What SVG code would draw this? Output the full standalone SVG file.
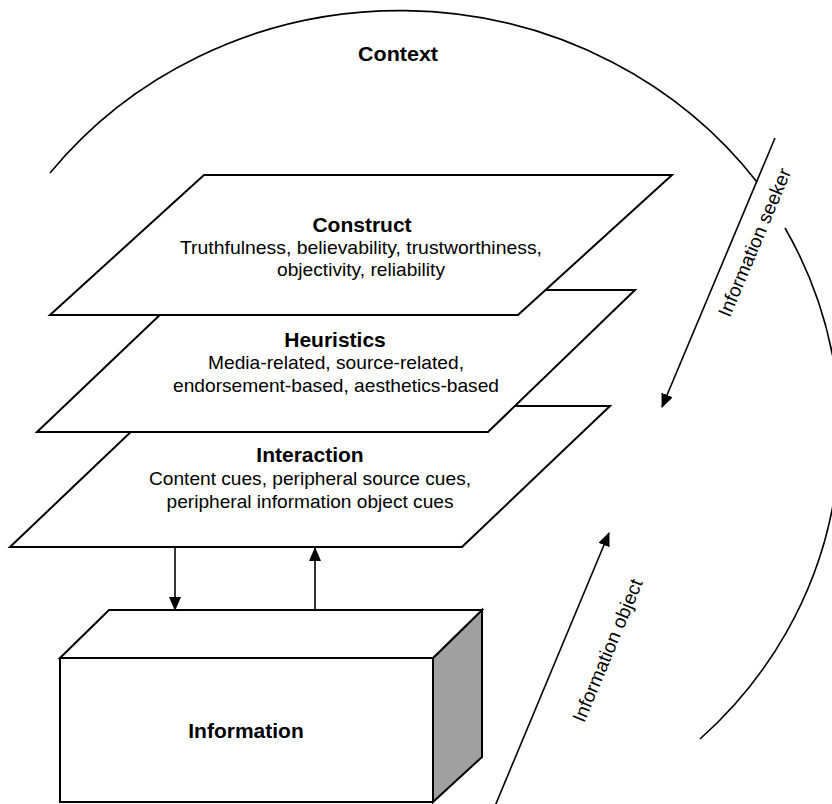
<svg xmlns="http://www.w3.org/2000/svg" width="832" height="804" viewBox="0 0 832 804">
<style>
.ln{fill:none;stroke:#000;stroke-width:1.6}
.pl{fill:#fff;stroke:#000;stroke-width:2}
.t{font-family:"Liberation Sans",Arial,sans-serif;font-size:19px;fill:#000;text-anchor:middle}
.b{font-family:"Liberation Sans",Arial,sans-serif;font-size:21px;font-weight:bold;fill:#000;text-anchor:middle}
</style>
<defs>
<marker id="ah" markerWidth="14" markerHeight="12" refX="13" refY="6" orient="auto" markerUnits="userSpaceOnUse">
<path d="M0,0 L14,6 L0,12 Z" fill="#000"/>
</marker>
</defs>
<rect width="832" height="804" fill="#fff"/>
<g id="context">
<path class="ln" d="M50,173 A445,425 0 0 1 757,182"/>
<path class="ln" d="M785,228 A438,420 0 0 1 700,739"/>
<text class="b" x="398" y="61" textLength="80" lengthAdjust="spacingAndGlyphs">Context</text>
</g>
<g id="interaction">
<polygon class="pl" points="158,406 610,406 462,547 10,547"/>
<text class="b" x="310" y="462">Interaction</text>
<text class="t" x="310" y="485" textLength="322" lengthAdjust="spacingAndGlyphs">Content cues, peripheral source cues,</text>
<text class="t" x="310" y="508" textLength="287" lengthAdjust="spacingAndGlyphs">peripheral information object cues</text>
</g>
<g id="heuristics">
<polygon class="pl" points="186,290 635,290 488,432 37,432"/>
<text class="b" x="335" y="347">Heuristics</text>
<text class="t" x="336" y="369" textLength="256" lengthAdjust="spacingAndGlyphs">Media-related, source-related,</text>
<text class="t" x="336" y="392" textLength="326" lengthAdjust="spacingAndGlyphs">endorsement-based, aesthetics-based</text>
</g>
<g id="construct">
<polygon class="pl" points="204,175 672,175 518,315 50,315"/>
<text class="b" x="362" y="232">Construct</text>
<text class="t" x="361" y="254" textLength="362" lengthAdjust="spacingAndGlyphs">Truthfulness, believability, trustworthiness,</text>
<text class="t" x="361" y="276" textLength="168" lengthAdjust="spacingAndGlyphs">objectivity, reliability</text>
</g>
<g id="information">
<polygon points="433,658 482,610 482,757 433,802" fill="#a0a0a0" stroke="#000" stroke-width="2"/>
<polygon class="pl" points="60,658 109,610 482,610 433,658"/>
<rect class="pl" x="60" y="658" width="373" height="144"/>
<text class="b" x="246" y="738">Information</text>
</g>
<g id="connectors">
<line class="ln" x1="175" y1="547" x2="175" y2="610" marker-end="url(#ah)"/>
<line class="ln" x1="315" y1="610" x2="315" y2="548" marker-end="url(#ah)"/>
<line class="ln" x1="775" y1="138" x2="662" y2="407" marker-end="url(#ah)"/>
<line class="ln" x1="495" y1="806" x2="609" y2="533" marker-end="url(#ah)"/>
</g>
<g id="labels">
<text class="t" transform="translate(760.6,245) rotate(-67.2)" textLength="159" lengthAdjust="spacingAndGlyphs">Information seeker</text>
<text class="t" transform="translate(613.6,653) rotate(-67.3)" textLength="153" lengthAdjust="spacingAndGlyphs">Information object</text>
</g>
</svg>
